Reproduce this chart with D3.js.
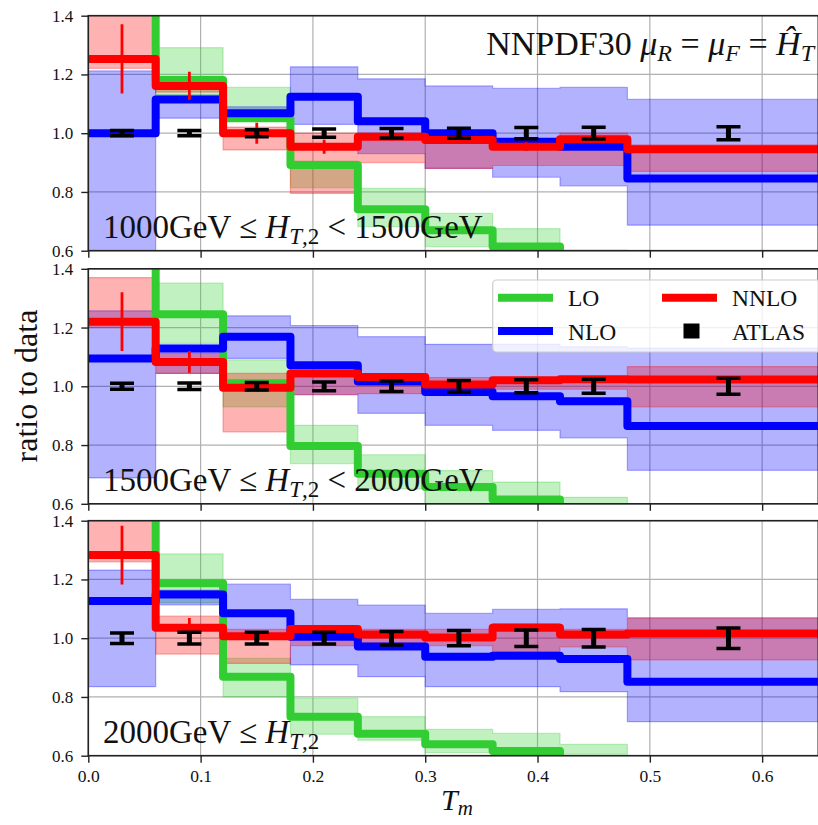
<!DOCTYPE html>
<html>
<head>
<meta charset="utf-8">
<script src="https://cdn.jsdelivr.net/npm/d3@7"></script>
<style>
  body { margin: 0; background: #fff; }
  svg { display: block; }
  text { font-family: "Liberation Serif", "DejaVu Serif", serif; fill: #111; }
</style>
</head>
<body>
<script>
// bins in T_m
var binEdges = [0, 0.06, 0.12, 0.18, 0.24, 0.30, 0.36, 0.42, 0.48, 0.66];
var binCenters = [0.03, 0.09, 0.15, 0.21, 0.27, 0.33, 0.39, 0.45, 0.57];
var xTickValues = [0, 0.1, 0.2, 0.3, 0.4, 0.5, 0.6];
var yTickValues = [0.6, 0.8, 1.0, 1.2, 1.4];
var panelLabels = ["1000GeV ≤ |H|T,2| < 1500GeV", "1500GeV ≤ |H|T,2| < 2000GeV", "2000GeV ≤ |H|T,2|"];

// 1000 - 1500 GeV
var lo1 = [1.60, 1.181, 1.051, 0.892, 0.741, 0.670, 0.614, 0.57, 0.50];
var loDown1 = [1.45, 1.13, 1.04, 0.815, 0.682, 0.614, 0.58, 0.55, 0.45];
var loUp1 = [1.80, 1.291, 1.156, 0.905, 0.812, 0.727, 0.675, 0.602, 0.55];
var nlo1 = [1.0, 1.115, 1.068, 1.124, 1.041, 1.0, 0.971, 0.954, 0.846];
var nloDown1 = [0.55, 1.051, 1.04, 1.03, 0.93, 0.88, 0.85, 0.821, 0.687];
var nloUp1 = [1.212, 1.13, 1.09, 1.226, 1.185, 1.161, 1.153, 1.156, 1.115];
var nnlo1 = [1.253, 1.161, 1.0, 0.954, 0.988, 0.977, 0.954, 0.979, 0.945];
var nnloDown1 = [1.221, 1.14, 0.943, 0.795, 0.90, 0.88, 0.89, 0.89, 0.87];
var nnloUp1 = [1.50, 1.18, 1.021, 1.0, 1.0, 1.0, 0.98, 1.0, 0.96];
var nnloStat1 = [0.118, 0.048, 0.036, 0.024, 0.012, 0.01, 0.015, 0.01, 0.008];
var atlasErr1 = [0.009, 0.009, 0.012, 0.014, 0.016, 0.017, 0.019, 0.02, 0.022];

// 1500 - 2000 GeV
var lo2 = [1.60, 1.245, 1.01, 0.797, 0.702, 0.657, 0.615, 0.57, 0.50];
var loDown2 = [1.45, 1.146, 0.93, 0.737, 0.651, 0.60, 0.58, 0.55, 0.45];
var loUp2 = [1.80, 1.351, 1.09, 0.867, 0.767, 0.713, 0.674, 0.622, 0.55];
var nlo2 = [1.095, 1.129, 1.169, 1.072, 1.016, 0.981, 0.966, 0.949, 0.865];
var nloDown2 = [0.688, 1.044, 1.095, 0.972, 0.908, 0.867, 0.85, 0.824, 0.714];
var nloUp2 = [1.257, 1.14, 1.24, 1.207, 1.169, 1.143, 1.143, 1.135, 1.13];
var nnlo2 = [1.22, 1.083, 0.995, 1.044, 1.032, 1.006, 1.021, 1.024, 1.023];
var nnloDown2 = [1.20, 1.044, 0.845, 0.972, 0.975, 0.99, 0.99, 0.99, 0.93];
var nnloUp2 = [1.37, 1.112, 1.044, 1.055, 1.04, 1.03, 1.03, 1.03, 1.067];
var nnloStat2 = [0.1, 0.037, 0.012, 0.01, 0.008, 0.008, 0.008, 0.008, 0.008];
var atlasErr2 = [0.01, 0.011, 0.013, 0.015, 0.018, 0.02, 0.022, 0.024, 0.027];

// >= 2000 GeV
var lo3 = [1.60, 1.187, 0.869, 0.733, 0.675, 0.639, 0.616, 0.57, 0.50];
var loDown3 = [1.45, 1.12, 0.80, 0.673, 0.653, 0.61, 0.60, 0.605, 0.45];
var loUp3 = [1.80, 1.287, 0.931, 0.795, 0.733, 0.69, 0.676, 0.639, 0.55];
var nlo3 = [1.127, 1.149, 1.085, 1.005, 0.972, 0.937, 0.94, 0.929, 0.852];
var nloDown3 = [0.835, 1.113, 1.01, 0.909, 0.869, 0.835, 0.835, 0.818, 0.716];
var nloUp3 = [1.232, 1.164, 1.184, 1.132, 1.113, 1.085, 1.098, 1.1, 1.07];
var nnlo3 = [1.283, 1.036, 1.007, 1.031, 1.013, 1.002, 1.036, 1.013, 1.016];
var nnloDown3 = [1.26, 0.946, 0.914, 0.975, 0.985, 0.975, 0.954, 0.97, 0.926];
var nnloUp3 = [1.50, 1.075, 1.03, 1.04, 1.03, 1.03, 1.05, 1.03, 1.067];
var nnloStat3 = [0.1, 0.033, 0.012, 0.01, 0.008, 0.008, 0.008, 0.008, 0.008];
var atlasErr3 = [0.018, 0.02, 0.02, 0.02, 0.023, 0.026, 0.028, 0.03, 0.035];

var panels = [
    { lo: lo1, loDown: loDown1, loUp: loUp1, nlo: nlo1, nloDown: nloDown1, nloUp: nloUp1,
      nnlo: nnlo1, nnloDown: nnloDown1, nnloUp: nnloUp1, nnloStat: nnloStat1, atlasErr: atlasErr1 },
    { lo: lo2, loDown: loDown2, loUp: loUp2, nlo: nlo2, nloDown: nloDown2, nloUp: nloUp2,
      nnlo: nnlo2, nnloDown: nnloDown2, nnloUp: nnloUp2, nnloStat: nnloStat2, atlasErr: atlasErr2 },
    { lo: lo3, loDown: loDown3, loUp: loUp3, nlo: nlo3, nloDown: nloDown3, nloUp: nloUp3,
      nnlo: nnlo3, nnloDown: nnloDown3, nnloUp: nnloUp3, nnloStat: nnloStat3, atlasErr: atlasErr3 }
];

var width = 818, height = 825,
    left = 88.3, right = 818.3,
    panelTops = [15.7, 268.8, 520.7], panelH = 235,
    serif = "'Liberation Serif', 'DejaVu Serif', serif",
    color_lo = "#32cd32", color_nlo = "#0000ff", color_nnlo = "#ff0000";

var svg = d3.select("body").append("svg")
    .attr("width", width)
    .attr("height", height);

var x = d3.scaleLinear().domain([0, 0.65]).range([left, right]);

function addTspan(sel, s, opts) {
    var t = sel.append("tspan").text(s);
    if (opts.italic) t.style("font-style", "italic");
    if (opts.size) t.style("font-size", opts.size + "px");
    if (opts.dy) t.attr("dy", opts.dy);
    return t;
}

function stepPoints(vals) {
    var pts = vals.map(function (v, k) { return [binEdges[k], v]; });
    pts.push([binEdges[binEdges.length - 1], vals[vals.length - 1]]);
    return pts;
}

function bandPoints(down, up) {
    var pts = down.map(function (v, k) { return [binEdges[k], v, up[k]]; });
    pts.push([binEdges[binEdges.length - 1], down[down.length - 1], up[up.length - 1]]);
    return pts;
}

panels.forEach(function (p, i) {
    var top = panelTops[i], bottom = top + panelH;
    var y = d3.scaleLinear().domain([0.6, 1.4]).range([bottom, top]);

    svg.append("clipPath").attr("id", "clip" + i)
        .append("rect")
        .attr("x", left).attr("y", top)
        .attr("width", right - left).attr("height", panelH);

    var g = svg.append("g");

    // grid
    g.append("g").selectAll("line")
        .data(xTickValues).enter().append("line")
        .attr("x1", d => x(d)).attr("x2", d => x(d))
        .attr("y1", top).attr("y2", bottom)
        .attr("stroke", "#b0b0b0").attr("stroke-width", 1.2);
    g.append("g").selectAll("line")
        .data(yTickValues).enter().append("line")
        .attr("x1", left).attr("x2", right)
        .attr("y1", d => y(d)).attr("y2", d => y(d))
        .attr("stroke", "#b0b0b0").attr("stroke-width", 1.2);

    var plot = g.append("g").attr("clip-path", "url(#clip" + i + ")");

    var line = d3.line()
        .x(d => x(d[0])).y(d => y(d[1]))
        .curve(d3.curveStepAfter);
    var area = d3.area()
        .x(d => x(d[0])).y0(d => y(d[1])).y1(d => y(d[2]))
        .curve(d3.curveStepAfter);

    /* uncertainty bands */
    [[p.loDown, p.loUp, color_lo], [p.nloDown, p.nloUp, color_nlo], [p.nnloDown, p.nnloUp, color_nnlo]]
        .forEach(function (b) {
            plot.append("path")
                .attr("d", area(bandPoints(b[0], b[1])))
                .attr("fill", b[2]).attr("fill-opacity", 0.3)
                .attr("stroke", b[2]).attr("stroke-opacity", 0.3).attr("stroke-width", 1.2);
        });

    /* central lines */
    [[p.lo, color_lo], [p.nlo, color_nlo], [p.nnlo, color_nnlo]].forEach(function (s) {
        plot.append("path")
            .attr("d", line(stepPoints(s[0])))
            .attr("fill", "none")
            .attr("stroke", s[1])
            .attr("stroke-width", 8)
            .attr("stroke-linejoin", "round");
    });

    /* NNLO statistical errors */
    plot.append("g").selectAll("line")
        .data(binCenters).enter().append("line")
        .attr("x1", d => x(d)).attr("x2", d => x(d))
        .attr("y1", (d, k) => y(p.nnlo[k] - p.nnloStat[k]))
        .attr("y2", (d, k) => y(p.nnlo[k] + p.nnloStat[k]))
        .attr("stroke", color_nnlo).attr("stroke-width", 2.8);

    /* ATLAS data (ratio 1 with errors) */
    var atlas = plot.append("g").selectAll("g")
        .data(binCenters).enter().append("g");
    atlas.append("line")
        .attr("x1", d => x(d)).attr("x2", d => x(d))
        .attr("y1", (d, k) => y(1 - p.atlasErr[k]))
        .attr("y2", (d, k) => y(1 + p.atlasErr[k]))
        .attr("stroke", "#000").attr("stroke-width", 5);
    [-1, 1].forEach(function (sgn) {
        atlas.append("line")
            .attr("x1", d => x(d) - 12).attr("x2", d => x(d) + 12)
            .attr("y1", (d, k) => y(1 + sgn * p.atlasErr[k]))
            .attr("y2", (d, k) => y(1 + sgn * p.atlasErr[k]))
            .attr("stroke", "#000").attr("stroke-width", 3.5);
    });

    // spines
    g.append("rect")
        .attr("x", left).attr("y", top)
        .attr("width", right - left).attr("height", panelH)
        .attr("fill", "none").attr("stroke", "#222").attr("stroke-width", 1.6);

    // Y axis
    var yAxis = d3.axisLeft(y).tickValues(yTickValues)
        .tickFormat(d3.format(".1f")).tickSize(7).tickPadding(8);
    var ya = g.append("g").attr("transform", `translate(${left},0)`).call(yAxis)
        .attr("font-family", serif).attr("font-size", 17);
    ya.select(".domain").remove();
    ya.selectAll("line").attr("stroke", "#222").attr("stroke-width", 1.4);
    ya.selectAll("text").style("font-family", serif).style("font-size", "17px").attr("fill", "#222");

    // X axis
    var xAxis = d3.axisBottom(x).tickValues(xTickValues)
        .tickFormat(i === 2 ? d3.format(".1f") : "").tickSize(7).tickPadding(7);
    var xa = g.append("g").attr("transform", `translate(0,${bottom})`).call(xAxis)
        .attr("font-family", serif).attr("font-size", 17);
    xa.select(".domain").remove();
    xa.selectAll("line").attr("stroke", "#222").attr("stroke-width", 1.4);
    xa.selectAll("text").style("font-family", serif).style("font-size", "17.5px").attr("fill", "#222");

    // panel label
    var lab = g.append("text")
        .attr("x", 103).attr("y", bottom - 12.5)
        .style("font-size", "33px");
    var pieces = panelLabels[i].split("|");
    addTspan(lab, pieces[0], {});
    addTspan(lab, pieces[1], { italic: true });
    var sub = pieces[2].split(",");
    addTspan(lab, sub[0], { italic: true, size: 23, dy: 6 });
    addTspan(lab, "," + sub[1], { size: 23 });
    if (pieces[3]) addTspan(lab, pieces[3], { dy: -6 });
});

// top annotation
var ann = svg.append("text")
    .attr("x", 814).attr("y", 55)
    .attr("text-anchor", "end")
    .style("font-size", "34px");
addTspan(ann, "NNPDF30 ", {});
addTspan(ann, "μ", { italic: true });
addTspan(ann, "R", { italic: true, size: 24, dy: 6 });
addTspan(ann, " = ", { dy: -6 });
addTspan(ann, "μ", { italic: true });
addTspan(ann, "F", { italic: true, size: 24, dy: 6 });
addTspan(ann, " = ", { dy: -6 });
addTspan(ann, "Ĥ", { italic: true });
addTspan(ann, "T", { italic: true, size: 24, dy: 6 });

// legend in middle panel
const legend = svg.append("g").attr("class", "legend");
legend.append("rect")
    .attr("x", 492.7).attr("y", 280)
    .attr("width", 330).attr("height", 72)
    .attr("rx", 4)
    .attr("fill", "#fff").attr("fill-opacity", 0.8)
    .attr("stroke", "#ccc").attr("stroke-width", 1.2);

var legendItems = [
    { name: "LO", color: color_lo, x: 498, y: 297.7, kind: "line" },
    { name: "NNLO", color: color_nnlo, x: 662, y: 297.7, kind: "line" },
    { name: "NLO", color: color_nlo, x: 498, y: 331, kind: "line" },
    { name: "ATLAS", color: "#000", x: 662, y: 331, kind: "square" }
];
legendItems.forEach(function (it) {
    if (it.kind === "line") {
        legend.append("line")
            .attr("x1", it.x).attr("x2", it.x + 55)
            .attr("y1", it.y).attr("y2", it.y)
            .attr("stroke", it.color).attr("stroke-width", 8);
    } else {
        legend.append("rect")
            .attr("x", it.x + 21.5).attr("y", it.y - 7.5)
            .attr("width", 16).attr("height", 15)
            .attr("fill", it.color);
    }
    legend.append("text")
        .attr("x", it.x + 70).attr("y", it.y + 8.5)
        .style("font-size", "23.5px")
        .text(it.name);
});

// axis titles
svg.append("text")
    .attr("transform", "translate(37,386) rotate(-90)")
    .attr("text-anchor", "middle")
    .style("font-size", "32px")
    .text("ratio to data");

var xt = svg.append("text")
    .attr("x", 441).attr("y", 810)
    .style("font-size", "30px");
addTspan(xt, "T", { italic: true });
addTspan(xt, "m", { italic: true, size: 21, dy: 5 });
</script>
</body>
</html>
